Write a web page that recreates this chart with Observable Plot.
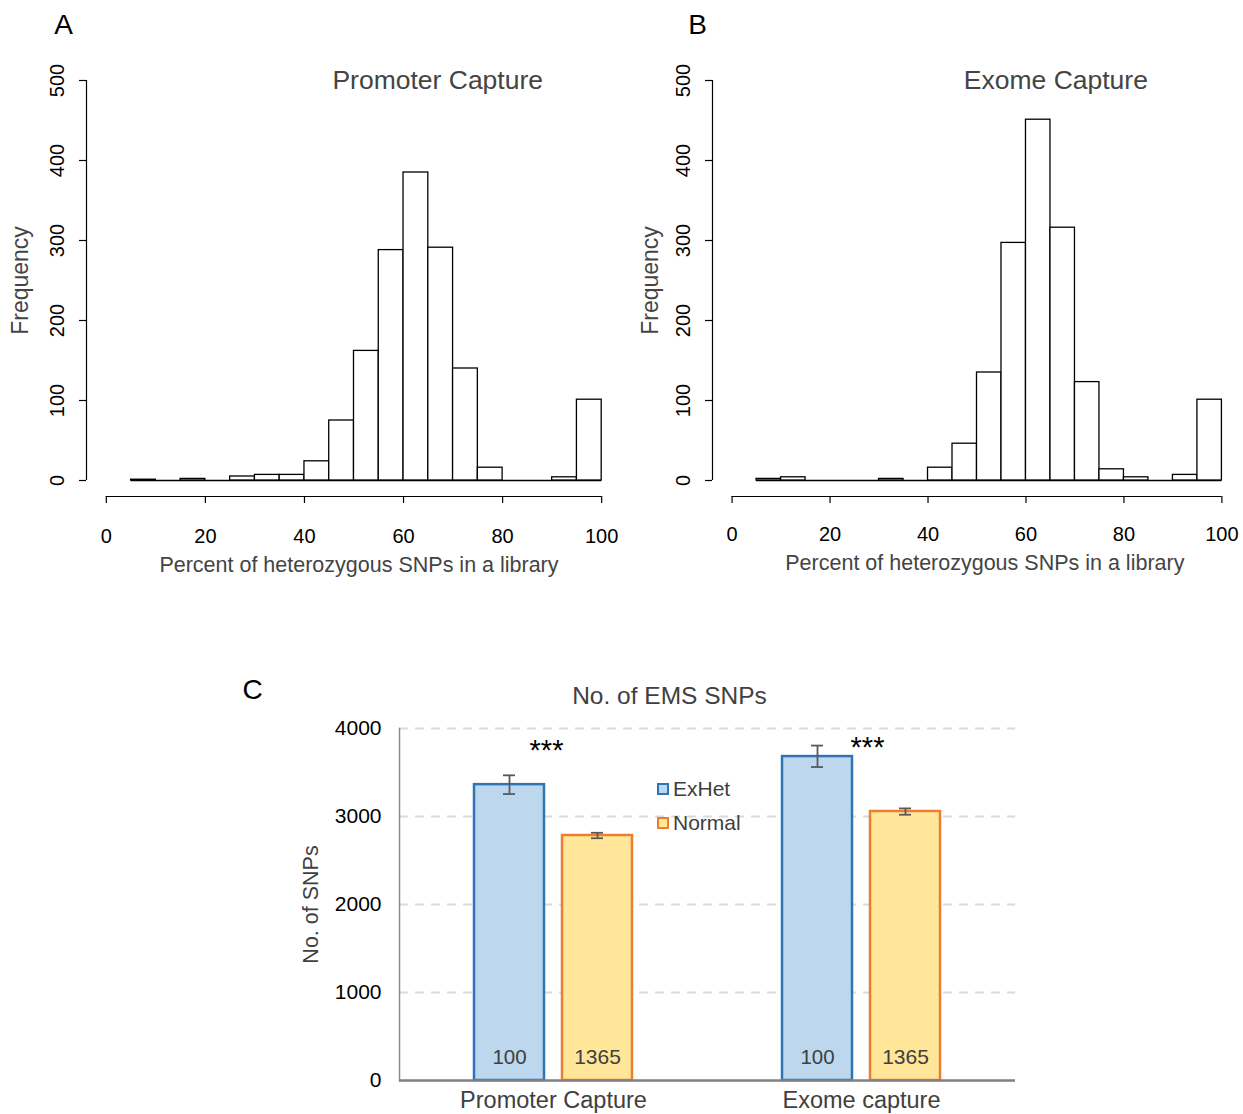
<!DOCTYPE html>
<html><head><meta charset="utf-8">
<script src="https://cdn.jsdelivr.net/npm/d3@7"></script>
<script src="https://cdn.jsdelivr.net/npm/@observablehq/plot@0.6"></script>
<style>
body{margin:0;background:#fff;font-family:"Liberation Sans",Arial,sans-serif;}
#root{position:relative;width:1243px;height:1114px;overflow:hidden;background:#fff}
.panel{position:absolute}
.legend{position:absolute;font-size:21px;color:#404040;display:flex;align-items:center;gap:4px;line-height:1}
.sw{width:8px;height:8px;border:2px solid;display:inline-block}
</style></head><body><div id="root"></div>
<script>
// ---- Histogram data (panels A and B) ----
const binLo = [5,10,15,20,25,30,35,40,45,50,55,60,65,70,75,80,85,90,95];
const binHi = [10,15,20,25,30,35,40,45,50,55,60,65,70,75,80,85,90,95,100];
const countsA = [1,0,2,0,5,7,7,24,75,162,288,385,291,140,16,0,0,4,101];
const countsB = [2,4,0,0,0,2,0,16,46,135,297,451,316,123,14,4,0,7,101];
const histTitles = ["Promoter Capture","Exome Capture"];
const histYTicks = [0,100,200,300,400,500];
const histXTicks = [0,20,40,60,80,100];
const histXLabel = "Percent of heterozygous SNPs in a library";
const histYLabel = "Frequency";

// ---- Bar chart data (panel C) ----
const groups = ["Promoter Capture","Exome capture"];
const exhetMean = [3362, 3681];
const exhetLo   = [3255, 3562];
const exhetHi   = [3468, 3806];
const normalMean = [2784, 3057];
const normalLo   = [2753, 3020];
const normalHi   = [2815, 3092];
const exhetN  = [100, 100];
const normalN = [1365, 1365];
const starY = [3836, 3878];
const cYTicks = [0,1000,2000,3000,4000];
const cTitle = "No. of EMS SNPs";
const cYLabel = "No. of SNPs";

const FONT = '"Liberation Sans", Arial, sans-serif';
const root = document.getElementById("root");

function place(node, left, top){
  node.classList.add("panel");
  node.style.left = left + "px";
  node.style.top = top + "px";
  root.appendChild(node);
}

function histogram(counts, title, letter, o){
  const bins = binLo.map((lo,i)=>({x0:lo, x1:binHi[i], count:counts[i]}));
  return Plot.plot({
    width:o.width, height:600,
    marginLeft:o.ml, marginRight:o.mr, marginTop:64, marginBottom:104,
    x:{domain:[-4,104]},
    y:{domain:[-20,520]},
    style:{fontFamily:FONT, fontSize:"19px", color:"black", background:"transparent", overflow:"visible"},
    marks:[
      Plot.ruleY([0], {x1:d3.min(binLo), x2:d3.max(binHi), stroke:"black", strokeWidth:1.3}),
      Plot.rectY(bins, {x1:"x0", x2:"x1", y1:0, y2:"count", fill:"white", stroke:"black", strokeWidth:1.3}),
      // y axis
      Plot.ruleX([-4], {y1:0, y2:d3.max(histYTicks), stroke:"black", strokeWidth:1.2}),
      Plot.axisY({ticks:histYTicks, tickSize:7, tickFormat:()=>"", label:null, strokeWidth:1.2}),
      Plot.text(histYTicks, {y:d=>d, text:d=>String(d), frameAnchor:"left", dx:-29, rotate:-90,
        textAnchor:"middle", lineAnchor:"middle", fontSize:20, fill:"black"}),
      Plot.text([histYLabel], {y:250, frameAnchor:"left", dx:o.ylabDx, rotate:-90,
        textAnchor:"middle", lineAnchor:"middle", fontSize:23, fill:"#444"}),
      // x axis
      Plot.ruleY([-20], {x1:d3.min(histXTicks), x2:d3.max(histXTicks), stroke:"black", strokeWidth:1.2}),
      Plot.axisX({ticks:histXTicks, tickSize:7, tickFormat:()=>"", label:null, strokeWidth:1.2}),
      Plot.text(histXTicks, {x:d=>d, text:d=>String(d), frameAnchor:"bottom", dy:o.tickDy,
        textAnchor:"middle", lineAnchor:"middle", fontSize:20, fill:"black"}),
      Plot.text([histXLabel], {x:o.xlabX, frameAnchor:"bottom", dy:o.tickDy+29,
        textAnchor:"middle", lineAnchor:"middle", fontSize:21.5, fill:"#444"}),
      // title
      Plot.text([title], {x:o.titleX, y:500, textAnchor:"middle", lineAnchor:"middle", fontSize:26.5, fill:"#444"}),
      // panel letter
      Plot.text([letter], {frameAnchor:"top-left", dx:o.letterDx, dy:-39, textAnchor:"middle", lineAnchor:"middle", fontSize:28, fill:"black"})
    ]
  });
}

place(histogram(countsA, histTitles[0], "A",
  {width:625, ml:86, mr:4, ylabDx:-66, tickDy:40, xlabX:51, titleX:66.9, letterDx:-23}), 0, 0);
place(histogram(countsB, histTitles[1], "B",
  {width:618, ml:87, mr:2, ylabDx:-62, tickDy:38, xlabX:51.6, titleX:66.1, letterDx:-15}), 625, 0);

// ---- Panel C ----
const ex = groups.map((g,i)=>({group:g, mean:exhetMean[i], lo:exhetLo[i], hi:exhetHi[i], n:exhetN[i]}));
const no = groups.map((g,i)=>({group:g, mean:normalMean[i], lo:normalLo[i], hi:normalHi[i], n:normalN[i]}));
const stars = groups.map((g,i)=>({group:g, y:starY[i]}));
const EB = "#595959";
const cPlot = Plot.plot({
  width:800, height:474,
  marginLeft:159, marginRight:25, marginTop:88, marginBottom:34,
  x:{domain:groups, paddingInner:0.487, paddingOuter:0.2435},
  y:{domain:[0,4000]},
  style:{fontFamily:FONT, fontSize:"21px", color:"black", background:"transparent", overflow:"visible"},
  marks:[
    Plot.ruleY(cYTicks.filter(d=>d>0), {stroke:"#d9d9d9", strokeWidth:2, strokeDasharray:"9,7"}),
    Plot.barY(ex, {x:"group", y:"mean", fill:"#BDD7EE", stroke:"#2E75B6", strokeWidth:2.5, insetRight:88}),
    Plot.barY(no, {x:"group", y:"mean", fill:"#FFE699", stroke:"#ED7D31", strokeWidth:2.5, insetLeft:88}),
    Plot.ruleX(ex, {x:"group", y1:"lo", y2:"hi", dx:-44, stroke:EB, strokeWidth:1.8}),
    Plot.tickY(ex, {x:"group", y:"lo", insetLeft:29, insetRight:117, stroke:EB, strokeWidth:1.8}),
    Plot.tickY(ex, {x:"group", y:"hi", insetLeft:29, insetRight:117, stroke:EB, strokeWidth:1.8}),
    Plot.ruleX(no, {x:"group", y1:"lo", y2:"hi", dx:44, stroke:EB, strokeWidth:1.8}),
    Plot.tickY(no, {x:"group", y:"lo", insetLeft:117, insetRight:29, stroke:EB, strokeWidth:1.8}),
    Plot.tickY(no, {x:"group", y:"hi", insetLeft:117, insetRight:29, stroke:EB, strokeWidth:1.8}),
    Plot.text(ex, {x:"group", y:0, text:d=>String(d.n), dx:-44, dy:-23, fontSize:20.5, fill:"#404040", lineAnchor:"middle"}),
    Plot.text(no, {x:"group", y:0, text:d=>String(d.n), dx:44, dy:-23, fontSize:21, fill:"#404040", lineAnchor:"middle"}),
    Plot.text([stars[0]], {x:"group", y:"y", text:()=>"***", dx:-7, dy:8, fontSize:29, fill:"black", lineAnchor:"middle"}),
    Plot.text([stars[1]], {x:"group", y:"y", text:()=>"***", dx:6, dy:8, fontSize:29, fill:"black", lineAnchor:"middle"}),
    Plot.frame({anchor:"left", stroke:"#8c8c8c", strokeWidth:1.5}),
    Plot.ruleY([0], {stroke:"#808080", strokeWidth:2.5}),
    Plot.axisY({ticks:cYTicks, tickSize:0, tickPadding:18, tickFormat:d=>String(d), label:null, fontSize:21, fill:"black"}),
    Plot.axisX({tickSize:0, tickPadding:11, label:null, fontSize:23.5, fill:"#404040"}),
    Plot.text([cTitle], {frameAnchor:"top", dx:-38, dy:-32, fontSize:24.5, fill:"#404040", lineAnchor:"middle"}),
    Plot.text([cYLabel], {y:2000, frameAnchor:"left", dx:-88, rotate:-90, textAnchor:"middle", lineAnchor:"middle", fontSize:21.5, fill:"#404040"}),
    Plot.text(["C"], {frameAnchor:"top-left", dx:-147, dy:-38, textAnchor:"middle", lineAnchor:"middle", fontSize:28, fill:"black"})
  ]
});
place(cPlot, 240, 640);

// legend
const legendItems = [
  {name:"ExHet", fill:"#BDD7EE", stroke:"#2E75B6", top:778},
  {name:"Normal", fill:"#FFE699", stroke:"#ED7D31", top:812}
];
for (const it of legendItems){
  const d = document.createElement("div");
  d.className = "legend";
  d.style.left = "657px"; d.style.top = it.top + "px";
  d.innerHTML = `<span class="sw" style="background:${it.fill};border-color:${it.stroke}"></span><span>${it.name}</span>`;
  root.appendChild(d);
}
</script></body></html>
